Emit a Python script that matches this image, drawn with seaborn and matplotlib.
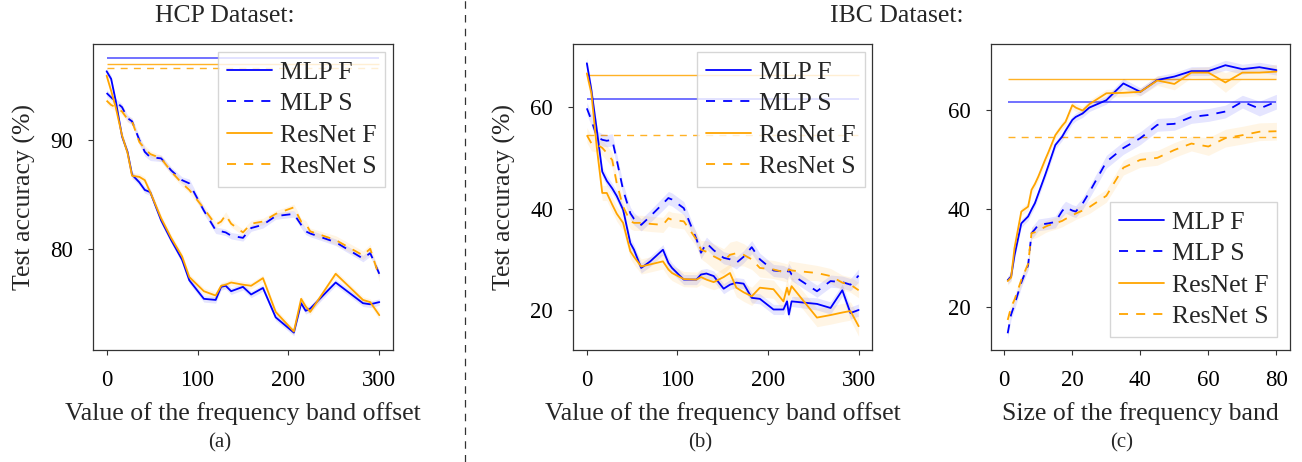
import matplotlib.pyplot as plt
import numpy as np
import seaborn as sns
from matplotlib.lines import Line2D

BLUE = "#0000ff"
ORANGE = "#ffa500"
DASH = (0, (5, 4.5))

# (a) HCP dataset, offset of the frequency band
offset_a = [0, 5, 10, 17, 23, 28, 36, 42, 48, 60, 71, 83, 91, 107, 120, 126, 131, 137, 150, 159,
            172, 186, 206, 214, 219, 224, 252, 282, 290, 300]
mlp_f_a = [96.3, 95.6, 93.6, 90.3, 88.9, 86.8, 86.1, 85.4, 85.2, 82.6, 80.8, 79.0, 77.1, 75.4, 75.3,
           76.5, 76.6, 76.1, 76.5, 75.8, 76.4, 73.7, 72.3, 75.0, 74.3, 74.5, 76.9, 75.0, 74.9, 75.1]
resnet_f_a = [95.9, 94.5, 93.0, 90.4, 88.8, 86.7, 86.6, 86.3, 85.2, 82.8, 81.0, 79.3, 77.4, 76.1, 75.7,
              76.6, 76.7, 76.9, 76.7, 76.6, 77.3, 74.2, 72.4, 75.4, 74.7, 74.2, 77.7, 75.3, 75.1, 73.9]
mlp_s_a = [94.3, 93.9, 93.5, 93.0, 92.0, 91.7, 90.0, 88.9, 88.4, 88.3, 87.2, 86.3, 86.0, 83.5, 81.7,
           81.6, 81.5, 81.2, 81.0, 81.9, 82.2, 83.0, 83.2, 82.2, 81.6, 81.4, 80.6, 79.1, 79.6, 77.7]
resnet_s_a = [93.6, 93.2, 93.0, 92.6, 91.9, 91.7, 89.8, 89.2, 88.7, 88.3, 87.1, 86.0, 85.4, 83.7, 82.2,
              82.5, 83.1, 82.3, 81.5, 82.3, 82.5, 83.2, 83.8, 82.5, 82.3, 81.6, 80.8, 79.4, 80.0, 77.4]
sd_mlp_f_a = [0.3, 0.3, 0.3, 0.3, 0.3, 0.3, 0.3, 0.3, 0.3, 0.3, 0.3, 0.3, 0.3, 0.3, 0.3,
              0.3, 0.3, 0.3, 0.3, 0.3, 0.3, 0.3, 0.3, 0.3, 0.3, 0.3, 0.3, 0.3, 0.3, 0.3]
sd_resnet_f_a = [0.3, 0.3, 0.3, 0.3, 0.3, 0.3, 0.3, 0.3, 0.3, 0.3, 0.3, 0.3, 0.3, 0.3, 0.3,
                 0.3, 0.3, 0.3, 0.3, 0.3, 0.3, 0.3, 0.3, 0.3, 0.3, 0.3, 0.3, 0.3, 0.3, 0.4]
sd_mlp_s_a = [0.3, 0.3, 0.3, 0.3, 0.3, 0.3, 0.4, 0.4, 0.3, 0.3, 0.3, 0.3, 0.4, 0.3, 0.3,
              0.3, 0.3, 0.3, 0.3, 0.3, 0.3, 0.3, 0.3, 0.3, 0.3, 0.3, 0.3, 0.3, 0.3, 0.3]
sd_resnet_s_a = [0.3, 0.3, 0.3, 0.3, 0.3, 0.3, 0.3, 0.3, 0.3, 0.3, 0.3, 0.3, 0.3, 0.3, 0.3,
                 0.3, 0.3, 0.3, 0.3, 0.3, 0.3, 0.3, 0.3, 0.3, 0.3, 0.3, 0.4, 0.4, 0.4, 0.4]
baseline_a = {"MLP F": 97.5, "ResNet F": 97.0, "ResNet S": 96.6}

# (b) IBC dataset, offset of the frequency band
offset_b = [0, 5, 11, 17, 22, 28, 33, 40, 48, 52, 60, 70, 84, 90, 94, 107, 121, 126, 132, 140,
            151, 158, 165, 173, 182, 191, 206, 217, 221, 223, 226, 254, 269, 282, 291, 300]
mlp_f_b = [68.7, 63.4, 55.5, 47.3, 45.5, 44.0, 42.5, 39.8, 33.2, 31.9, 28.3, 29.6, 31.9, 29.3, 28.3,
           26.0, 26.0, 27.0, 27.2, 26.7, 24.2, 25.0, 25.4, 25.2, 22.4, 22.2, 20.1, 20.1, 21.7, 19.1,
           21.7, 21.2, 20.4, 23.9, 19.4, 20.0]
resnet_f_b = [66.7, 62.8, 52.0, 43.1, 43.1, 40.8, 39.0, 37.2, 31.6, 30.5, 28.6, 29.0, 29.6, 28.0, 27.3,
              26.1, 26.0, 26.5, 26.0, 25.5, 26.5, 27.3, 24.4, 23.5, 22.7, 24.4, 24.1, 21.7, 24.4, 23.0,
              24.7, 18.5, 19.0, 19.5, 19.8, 16.8]
mlp_s_b = [59.8, 57.5, 54.2, 53.6, 53.4, 53.6, 49.6, 43.7, 39.1, 38.0, 36.8, 38.5, 41.0, 42.1, 41.8,
           40.1, 34.0, 31.3, 33.2, 31.8, 30.3, 30.0, 29.3, 30.5, 32.4, 30.0, 27.8, 27.6, 27.2, 28.0,
           27.0, 23.7, 25.7, 25.5, 25.0, 26.8]
resnet_s_b = [54.5, 52.9, 52.7, 52.0, 51.0, 49.6, 45.0, 40.4, 37.5, 37.2, 37.2, 37.0, 36.8, 38.1, 37.8,
              37.5, 33.9, 31.9, 31.5, 30.6, 29.6, 30.9, 31.2, 30.9, 30.0, 28.3, 28.0, 27.5, 27.3, 28.0,
              27.8, 27.3, 26.7, 25.4, 25.0, 23.9]
sd_mlp_f_b = [1.0, 1.0, 1.0, 1.0, 1.0, 1.0, 1.0, 1.0, 1.0, 1.0, 1.0, 1.0, 1.0, 1.0, 1.0,
              1.0, 1.0, 1.0, 1.0, 1.0, 1.0, 1.0, 1.0, 1.0, 1.0, 1.0, 1.0, 1.0, 1.0, 1.0,
              1.0, 1.2, 1.2, 1.2, 1.2, 1.2]
sd_resnet_f_b = [1.5, 1.5, 1.5, 1.5, 1.5, 1.5, 1.5, 1.5, 1.5, 1.5, 1.5, 1.5, 1.5, 1.5, 1.5,
                 1.5, 1.5, 1.5, 1.5, 1.5, 1.8, 1.8, 1.8, 1.8, 1.8, 1.8, 1.8, 1.8, 1.8, 1.8,
                 1.8, 1.8, 1.8, 1.8, 1.8, 2.0]
sd_mlp_s_b = [1.2, 1.2, 1.2, 1.2, 1.2, 1.2, 1.2, 1.2, 1.2, 1.2, 1.2, 1.2, 1.3, 1.3, 1.3,
              1.3, 1.2, 1.2, 1.2, 1.2, 1.2, 1.2, 1.2, 1.2, 1.3, 1.2, 1.2, 1.2, 1.2, 1.2,
              1.2, 1.2, 1.2, 1.2, 1.2, 1.3]
sd_resnet_s_b = [1.5, 1.5, 1.5, 1.5, 1.5, 1.5, 1.5, 1.5, 1.5, 1.5, 1.5, 1.5, 1.5, 1.5, 1.5,
                 1.5, 1.5, 1.8, 2.2, 2.5, 2.5, 2.5, 2.5, 2.2, 2.0, 1.8, 1.8, 1.8, 1.8, 1.8,
                 1.8, 1.5, 1.5, 1.5, 1.5, 1.5]
baseline_b = {"MLP F": 61.6, "ResNet F": 66.3, "ResNet S": 54.5}

# (c) IBC dataset, size of the frequency band
size_c = [1, 2, 3, 5, 7, 8, 9, 10, 12, 13, 15, 17, 18, 20, 21, 23, 25, 30, 35, 40,
          45, 50, 55, 60, 65, 70, 75, 80]
mlp_f_c = [25.5, 26.2, 30.5, 37.0, 38.4, 39.8, 41.1, 43.0, 46.8, 48.8, 52.9, 54.6, 55.8, 58.0,
           58.6, 59.3, 60.5, 62.0, 65.4, 63.7, 66.1, 66.8, 67.9, 67.9, 69.1, 68.3, 68.7, 68.1]
resnet_f_c = [25.3, 26.0, 32.0, 39.4, 40.4, 43.8, 45.0, 46.5, 49.9, 51.5, 54.9, 56.8, 57.6, 61.0,
              60.5, 59.9, 61.2, 63.4, 63.5, 63.7, 66.0, 65.3, 67.6, 67.6, 65.6, 67.6, 67.6, 67.8]
mlp_s_c = [14.7, 18.5, 20.5, 25.0, 28.5, 35.0, 35.8, 36.7, 36.9, 37.0, 37.3, 39.5, 40.3, 39.6,
           39.4, 41.0, 43.3, 49.5, 52.3, 54.3, 57.0, 57.2, 58.6, 59.0, 59.7, 61.7, 60.3, 61.7]
resnet_s_c = [17.4, 20.0, 21.5, 25.5, 28.8, 35.0, 35.2, 35.5, 36.3, 36.6, 37.0, 37.5, 37.9, 38.6,
              39.0, 39.6, 40.3, 42.6, 48.3, 49.9, 50.3, 51.9, 53.2, 52.6, 54.3, 54.9, 55.6, 55.7]
sd_mlp_f_c = [0.8, 0.8, 0.8, 0.8, 0.8, 0.8, 0.8, 0.8, 0.8, 0.8, 0.8, 0.8, 0.8, 0.8,
              0.8, 0.8, 0.8, 0.8, 1.0, 0.8, 0.8, 0.8, 0.9, 0.9, 1.0, 1.0, 1.0, 1.0]
sd_resnet_f_c = [0.8, 0.8, 0.8, 0.8, 0.8, 0.8, 0.8, 0.8, 0.8, 0.8, 0.8, 0.8, 0.8, 0.8,
                 0.8, 0.8, 0.8, 0.8, 0.8, 0.8, 1.0, 1.2, 1.0, 1.2, 2.0, 1.2, 1.2, 1.5]
sd_mlp_s_c = [1.0, 1.0, 1.0, 1.0, 1.0, 1.2, 1.2, 1.2, 1.2, 1.2, 1.2, 1.2, 1.2, 1.2,
              1.2, 1.2, 1.2, 1.3, 1.3, 1.3, 1.3, 1.3, 1.3, 1.3, 1.3, 1.3, 1.5, 1.5]
sd_resnet_s_c = [1.0, 1.0, 1.0, 1.0, 1.0, 1.2, 1.2, 1.2, 1.2, 1.2, 1.2, 1.2, 1.2, 1.2,
                 1.2, 1.2, 1.3, 1.3, 1.5, 1.5, 1.5, 1.5, 1.5, 1.8, 1.8, 1.8, 1.8, 1.8]
baseline_c = {"MLP F": 61.6, "ResNet F": 66.3, "ResNet S": 54.6}

LINE_STYLES = {
    "MLP F": (BLUE, "-"),
    "MLP S": (BLUE, DASH),
    "ResNet F": (ORANGE, "-"),
    "ResNet S": (ORANGE, DASH),
}

sns.set_style("ticks")
plt.rcParams["font.family"] = ["Liberation Serif", "DejaVu Serif"]
plt.rcParams["axes.edgecolor"] = "#333333"
plt.rcParams["axes.linewidth"] = 0.9
plt.rcParams["xtick.color"] = "#333333"
plt.rcParams["ytick.color"] = "#333333"
plt.rcParams["xtick.labelcolor"] = "black"
plt.rcParams["ytick.labelcolor"] = "black"

TICK_FONT = 16.5
TEXT_FONT = 18.5


def DrawPanel(ax, x, curves, baselines, xlim, ylim, xticks, yticks, xlabel, ylabel, legend_loc, legend_pad):
    x_start, x_end = x[0], x[-1]
    for label, value in baselines.items():
        color, style = LINE_STYLES[label]
        alpha = 0.6 if color == BLUE else 0.85
        width = 1.3 if color == BLUE else 1.0
        ax.hlines(value, x_start, x_end, color=color, alpha=alpha, lw=width, linestyles=style, zorder=1)

    for label, values, spread in curves:
        color, style = LINE_STYLES[label]
        values = np.array(values)
        spread = np.array(spread)
        ax.fill_between(x, values - spread, values + spread, color=color, alpha=0.1, lw=0, zorder=2)
        sns.lineplot(x=x, y=values, color=color, linestyle=style, lw=1.3, label=label,
                     errorbar=None, ax=ax, zorder=3)

    ax.set_xlim(*xlim)
    ax.set_ylim(*ylim)
    ax.set_xticks(xticks)
    ax.set_yticks(yticks)
    ax.tick_params(direction="out", length=3.5, width=0.8, labelsize=TICK_FONT, pad=11)
    ax.set_xlabel(xlabel, fontsize=TEXT_FONT, labelpad=8)
    if ylabel:
        ax.set_ylabel(ylabel, fontsize=TEXT_FONT, labelpad=10)
    else:
        ax.set_ylabel("")
    for spine in ax.spines.values():
        spine.set_visible(True)

    handles, labels = ax.get_legend_handles_labels()
    legend = ax.legend(handles, labels, loc=legend_loc, fontsize=TEXT_FONT, frameon=True, fancybox=False,
                       framealpha=0.8, edgecolor="#cccccc", handlelength=1.75, handletextpad=0.3,
                       labelspacing=0.33, borderpad=0.35, borderaxespad=legend_pad)
    legend.get_frame().set_linewidth(1.0)


fig = plt.figure(figsize=(13.02, 4.62), dpi=100)
ax_a = fig.add_axes([0.0714, 0.2424, 0.2304, 0.6623])
ax_b = fig.add_axes([0.4403, 0.2424, 0.2296, 0.6623])
ax_c = fig.add_axes([0.7609, 0.2424, 0.2299, 0.6623])

DrawPanel(
    ax_a, offset_a,
    [("MLP F", mlp_f_a, sd_mlp_f_a), ("MLP S", mlp_s_a, sd_mlp_s_a),
     ("ResNet F", resnet_f_a, sd_resnet_f_a), ("ResNet S", resnet_s_a, sd_resnet_s_a)],
    baseline_a, (-15, 315), (70.7, 98.8), [0, 100, 200, 300], [80, 90],
    "Value of the frequency band offset", "Test accuracy (%)", "upper right", 0.3,
)
DrawPanel(
    ax_b, offset_b,
    [("MLP F", mlp_f_b, sd_mlp_f_b), ("MLP S", mlp_s_b, sd_mlp_s_b),
     ("ResNet F", resnet_f_b, sd_resnet_f_b), ("ResNet S", resnet_s_b, sd_resnet_s_b)],
    baseline_b, (-15, 315), (12.1, 72.5), [0, 100, 200, 300], [20, 40, 60],
    "Value of the frequency band offset", "Test accuracy (%)", "upper right", 0.3,
)
DrawPanel(
    ax_c, size_c,
    [("MLP F", mlp_f_c, sd_mlp_f_c), ("MLP S", mlp_s_c, sd_mlp_s_c),
     ("ResNet F", resnet_f_c, sd_resnet_f_c), ("ResNet S", resnet_s_c, sd_resnet_s_c)],
    baseline_c, (-4, 84), (11.3, 73.4), [0, 20, 40, 60, 80], [20, 40, 60],
    "Size of the frequency band", None, "lower right", 0.5,
)

fig.text(0.1728, 0.966, "HCP Dataset:", ha="center", va="center", fontsize=TEXT_FONT)
fig.text(0.689, 0.966, "IBC Dataset:", ha="center", va="center", fontsize=TEXT_FONT)
fig.text(0.169, 0.041, "(a)", ha="center", va="center", fontsize=15)
fig.text(0.5376, 0.041, "(b)", ha="center", va="center", fontsize=15)
fig.text(0.8618, 0.041, "(c)", ha="center", va="center", fontsize=15)
fig.add_artist(Line2D([0.357, 0.357], [0.0, 1.0], transform=fig.transFigure, color="#333333",
                      lw=0.9, linestyle=(0, (6, 5))))

fig.savefig("out.png", dpi=100)
